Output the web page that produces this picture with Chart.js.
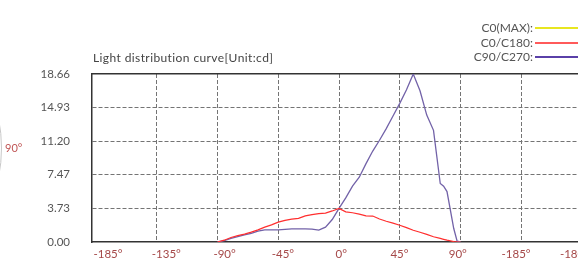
<!DOCTYPE html>
<html>
<head>
<meta charset="utf-8">
<script src="https://cdn.jsdelivr.net/npm/chart.js@4.4.1/dist/chart.umd.min.js"></script>
<style>
  html, body { margin:0; padding:0; background:#fff; }
  #wrap { position:relative; width:578px; height:261px; overflow:hidden; font-family:Lato, "Open Sans", sans-serif; }
  #c { position:absolute; left:0; top:0; }
  .title { position:absolute; left:93px; top:50px; font-size:12px; letter-spacing:0.4px; color:#444; white-space:nowrap; }
  .leg { position:absolute; right:45px; font-size:12px; color:#555; white-space:nowrap; text-align:right; }
  .legline { position:absolute; left:535px; width:50px; height:2px; }
  .side { position:absolute; left:5px; top:141px; font-size:11px; color:#c05555; }
  .arc { position:absolute; left:-298px; top:-2px; width:300px; height:300px; border:1px solid #c8c8c8; border-radius:50%; box-sizing:border-box; }
</style>
</head>
<body>
<div id="wrap">
  <canvas id="c" width="620" height="261"></canvas>
  <div class="arc"></div>
  <div class="side">90°</div>
  <div class="title">Light distribution curve[Unit:cd]</div>
  <div class="leg" style="top:20px">C0(MAX):</div>
  <div class="legline" style="top:27px;background:#e8e620"></div>
  <div class="leg" style="top:35px">C0/C180:</div>
  <div class="legline" style="top:42px;background:#ff5a5a"></div>
  <div class="leg" style="top:49px">C90/C270:</div>
  <div class="legline" style="top:56px;background:#5a40a8"></div>
</div>
<script>
// ---- data ----
const angles = [-90,-85,-80,-75,-70,-65,-60,-55,-50,-45,-40,-35,-30,-25,-20,-15,-10,-5,0,5,10,15,20,25,30,35,40,45,50,55,60,65,70,75,77.5,80,85,87.5,90];
const c0c180 = [0,0.2,0.5,0.7,0.88,1.1,1.35,1.65,1.9,2.2,2.4,2.55,2.62,2.9,3.05,3.15,3.2,3.45,3.73,3.35,3.25,3.1,2.9,2.88,2.55,2.3,2.1,1.86,1.6,1.3,1.08,0.85,0.58,0.4,0.3,0.2,0.05,0.02,0];
const c90c270 = [0,0.15,0.4,0.6,0.8,0.95,1.2,1.34,1.34,1.34,1.4,1.45,1.45,1.45,1.42,1.32,1.65,2.5,3.73,4.9,6.2,7.2,8.7,10.1,11.3,12.6,14.0,15.4,16.9,18.66,16.8,14.1,12.4,6.5,6.2,5.6,1.5,0.1,0];
const c0max = [];
const xGridValues = [-180,-135,-90,-45,0,45,90,135,180];
const xTickLabels = ["-185°","-135°","-90°","-45°","0°","45°","90°","-185°","-180°"];
const yTickValues = [0,3.73,7.47,11.20,14.93,18.66];
const yTickLabels = ["0.00","3.73","7.47","11.20","14.93","18.66"];

const pts = arr => arr.map((v,i)=>({x:angles[i], y:v}));
const dash = [4,2];
const gridCol = '#747474';
const clear = 'rgba(0,0,0,0)';

new Chart(document.getElementById('c'), {
  type: 'line',
  data: {
    datasets: [
      { label:'C0(MAX)', data: pts(c0max), borderColor:'#e8e620', borderWidth:1.2, pointRadius:0, xAxisID:'x', yAxisID:'y' },
      { label:'C0/C180', data: pts(c0c180), borderColor:'#ff2f2f', borderWidth:1.2, pointRadius:0, tension:0, xAxisID:'x', yAxisID:'y' },
      { label:'C90/C270', data: pts(c90c270), borderColor:'#7262a8', borderWidth:1.3, pointRadius:0, tension:0, xAxisID:'x', yAxisID:'y' }
    ]
  },
  options: {
    responsive:false, animation:false, devicePixelRatio:1,
    layout:{ padding:{ top:74, right:20, left:0, bottom:0 } },
    plugins:{ legend:{display:false}, tooltip:{enabled:false}, title:{display:false} },
    scales:{
      xTop:{ type:'linear', position:'top', min:0, max:1,
        ticks:{display:false}, grid:{display:false, drawTicks:false},
        border:{display:true, color:'#333', width:1.5},
        afterFit: s => { s.height = 0; } },
      x:{ type:'linear', position:'bottom', min:-182.96, max:193.33,
        afterBuildTicks: s => { s.ticks = xGridValues.map(v=>({value:v})); },
        ticks:{display:false},
        grid:{ drawTicks:false, lineWidth:1, color: ctx => (ctx.index===0 ? clear : gridCol) },
        border:{ display:false, dash:dash },
        afterFit: s => { s.height = 0; } },
      x2:{ type:'linear', position:'bottom', min:-0.2744, max:8.4391,
        afterBuildTicks: s => { s.ticks = xTickLabels.map((l,i)=>({value:i})); },
        ticks:{ color:'#a54848', font:{family:'Lato', size:11.5}, padding:5, maxRotation:0, autoSkip:false,
          callback:(v,i)=>xTickLabels[i] },
        grid:{ display:false, drawTicks:false },
        border:{ display:true, color:'#333', width:1.5 },
        afterFit: s => { s.height = 19; } },
      y:{ type:'linear', position:'left', min:0, max:18.66,
        afterBuildTicks: s => { s.ticks = yTickValues.map(v=>({value:v})); },
        ticks:{ color:'#555', font:{family:'Lato', size:11.5}, padding:0, autoSkip:false,
          callback:(v,i)=>yTickLabels[i] },
        grid:{ drawTicks:true, tickLength:22, tickColor:clear, lineWidth:1,
          color: ctx => ((ctx.index===0 || ctx.index===yTickValues.length-1) ? clear : gridCol) },
        border:{ display:true, color:'#333', width:1.5, dash:dash },
        afterFit: s => { s.width = 92; } }
    }
  }
});
</script>
</body>
</html>
